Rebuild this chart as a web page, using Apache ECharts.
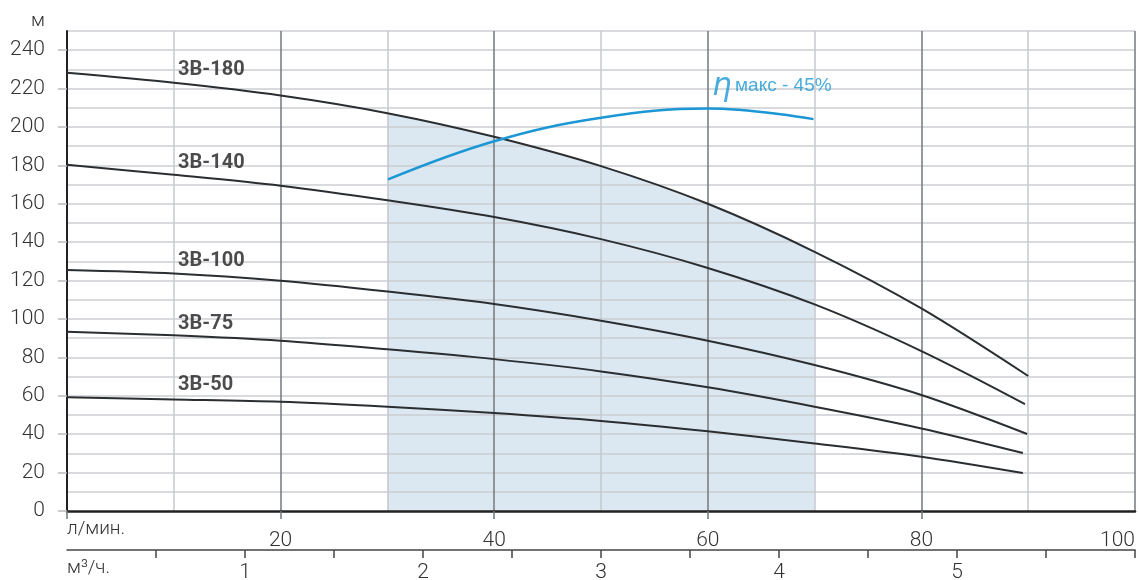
<!DOCTYPE html>
<html>
<head>
<meta charset="utf-8">
<script src="https://cdn.jsdelivr.net/npm/echarts@6/dist/echarts.min.js"></script>
<style>
  html, body { margin: 0; padding: 0; background: #fff; }
  #chart { width: 1139px; height: 580px; }
</style>
</head>
<body>
<div id="chart"></div>
<script>
// Pump head curves, head (м) against flow (л/мин.)
const pumpNames = ['3В-180', '3В-140', '3В-100', '3В-75', '3В-50'];
const flowLpm = [0, 10, 20, 30, 40, 50, 60, 70, 80];
const head180 = [228.2, 223.0, 216.4, 207.2, 194.9, 179.6, 160.0, 135.0, 105.5];
const head140 = [180.3, 175.1, 169.4, 161.8, 153.1, 141.6, 126.6, 107.6, 83.3];
const head100 = [125.5, 123.7, 119.9, 114.3, 107.8, 99.1, 88.7, 76.0, 60.4];
const head75 = [93.4, 91.5, 88.7, 84.2, 79.1, 72.7, 64.4, 54.3, 43.0];
const head50 = [59.2, 58.1, 56.9, 54.3, 51.0, 46.9, 41.5, 35.2, 28.3];
// last point of each curve: [flow, head]
const curveEnds = [[90, 70.3], [89.7, 55.7], [89.9, 40.1], [89.5, 30.2], [89.5, 19.8]];

// efficiency curve
const effFlow = [30.05, 40, 50, 60, 69.9];
const effHead = [172.7, 192.6, 204.8, 209.6, 204.1];
const effLabel = 'макс - 45%';

// recommended working range (л/мин.)
const workRange = [30, 70];

// axis ticks and labels
const headTicks = [0, 20, 40, 60, 80, 100, 120, 140, 160, 180, 200, 220, 240];
const lpmLabels = [0, 20, 40, 60, 80, 100];
const lpmTicks = [0, 20, 40, 60, 80];
const m3hLabels = [1, 2, 3, 4, 5];
const m3hTicks = [0.5, 1, 1.5, 2, 2.5, 3, 3.5, 4, 4.5, 5, 5.5, 6];

// where the curve names and the efficiency note sit (data units)
const nameAnchors = [[10.4, 229.6], [10.4, 181.0], [10.4, 130.0], [10.4, 97.4], [10.4, 65.8]];
const effAnchor = [60.4, 220.8];

const heads = [head180, head140, head100, head75, head50];
const curves = heads.map((h, k) => flowLpm.map((x, i) => [x, h[i]]).concat([curveEnds[k]]));
const rangeArea = curves[0].filter(p => p[0] >= workRange[0] && p[0] <= workRange[1]);
const effCurve = effFlow.map((x, i) => [x, effHead[i]]);

const FONT = 'Roboto, "Noto Sans", sans-serif';
const axisText = { fontFamily: FONT, fontSize: 21, fontWeight: 300, color: '#333' };
const unitText = { fontFamily: FONT, fontSize: 19, fontWeight: 300, color: '#333',
                   align: 'left', verticalAlign: 'top' };

const chart = echarts.init(document.getElementById('chart'), null, { renderer: 'canvas' });

chart.setOption({
  animation: false,
  backgroundColor: '#fff',
  grid: { left: 67, right: 4, top: 31, bottom: 69, outerBoundsMode: 'none', containLabel: false },
  xAxis: [
    {
      // л/мин. scale
      type: 'value', min: 0, max: 100, interval: 10, position: 'bottom', z: 2,
      name: 'л/мин.', nameLocation: 'start', nameGap: 0,
      nameTextStyle: Object.assign({ padding: [9, 0, 0, 0] }, unitText),
      axisLine: { show: true, onZero: false, lineStyle: { color: '#222', width: 2.5 } },
      axisTick: { show: true, customValues: lpmTicks, length: 8,
                  lineStyle: { color: '#74787c', width: 1.5 } },
      axisLabel: Object.assign({ customValues: lpmLabels, margin: 19, alignMaxLabel: 'right',
                  formatter: v => (v === 0 ? '' : String(v)) }, axisText),
      splitLine: { show: false }
    },
    {
      // м³/ч. scale
      type: 'value', min: 0, max: 6, interval: 0.5, position: 'bottom', offset: 39,
      name: 'м³/ч.', nameLocation: 'start', nameGap: 0,
      nameTextStyle: Object.assign({ padding: [9, 0, 0, 0] }, unitText),
      axisLine: { show: true, onZero: false, lineStyle: { color: '#444', width: 1.5 } },
      axisTick: { show: true, customValues: m3hTicks, length: 8,
                  lineStyle: { color: '#444', width: 1.5 } },
      axisLabel: Object.assign({ customValues: m3hLabels, margin: 12 }, axisText),
      splitLine: { show: false }
    },
    {
      // vertical grid every 10 л/мин.
      type: 'value', min: 0, max: 100, interval: 10, position: 'bottom', z: 0,
      axisLine: { show: false }, axisTick: { show: false }, axisLabel: { show: false },
      splitLine: { show: true, showMinLine: false,
                   lineStyle: { color: ['#c6c9cd', '#74787c'], width: 1.5 } }
    }
  ],
  yAxis: [
    {
      type: 'value', min: 0, max: 250, interval: 10, z: 2,
      name: 'м', nameLocation: 'end', nameGap: 10,
      nameTextStyle: { fontFamily: FONT, fontSize: 19, fontWeight: 300, color: '#333',
                       align: 'right', verticalAlign: 'middle', padding: [0, 22, 0, 0] },
      axisLine: { show: true, onZero: false, lineStyle: { color: '#222', width: 2 } },
      axisTick: { show: true, customValues: headTicks, length: 9,
                  lineStyle: { color: '#b9bdc1', width: 1.5 } },
      axisLabel: Object.assign({ customValues: headTicks, margin: 22 }, axisText),
      splitLine: { show: false }
    },
    {
      // horizontal grid every 10 м
      type: 'value', min: 0, max: 250, interval: 10, position: 'left', z: 0,
      axisLine: { show: false }, axisTick: { show: false }, axisLabel: { show: false },
      splitLine: { show: true, showMinLine: false, lineStyle: { color: '#cbced2', width: 1.5 } }
    }
  ],
  series: [
    {
      name: 'рабочая зона', type: 'line', z: -1,
      data: rangeArea, smooth: 0.3, showSymbol: false, silent: true,
      lineStyle: { width: 0 },
      areaStyle: { color: '#dce8f1', opacity: 1 }
    },
    ...curves.map((d, k) => ({
      name: pumpNames[k], type: 'line', z: 3,
      data: d, smooth: 0.3, showSymbol: false, silent: true,
      lineStyle: { color: '#2b2e31', width: 2 }
    })),
    {
      name: 'η', type: 'line', z: 4,
      data: effCurve, smooth: 0.4, showSymbol: false, silent: true,
      lineStyle: { color: '#1a97d4', width: 2.5 }
    },
    {
      name: 'подписи', type: 'scatter', z: 5, silent: true,
      symbolSize: 0, data: nameAnchors,
      label: {
        show: true, position: 'right', distance: 0,
        formatter: p => pumpNames[p.dataIndex],
        fontFamily: FONT, fontSize: 20, fontWeight: 'bold', color: '#1f1f1f'
      }
    },
    {
      name: 'кпд', type: 'scatter', z: 5, silent: true,
      symbolSize: 0, data: [effAnchor],
      label: {
        show: true, position: 'right', distance: 0,
        formatter: '{eta|η} {t|' + effLabel + '}',
        rich: {
          eta: { fontFamily: '"DejaVu Sans", sans-serif', fontStyle: 'italic', fontSize: 31, color: '#1a97d4' },
          t: { fontFamily: '"Liberation Sans Narrow", "Liberation Sans", sans-serif', fontSize: 19,
               color: '#1a97d4', padding: [0, 0, 3, 0] }
        }
      }
    }
  ]
});
</script>
</body>
</html>
